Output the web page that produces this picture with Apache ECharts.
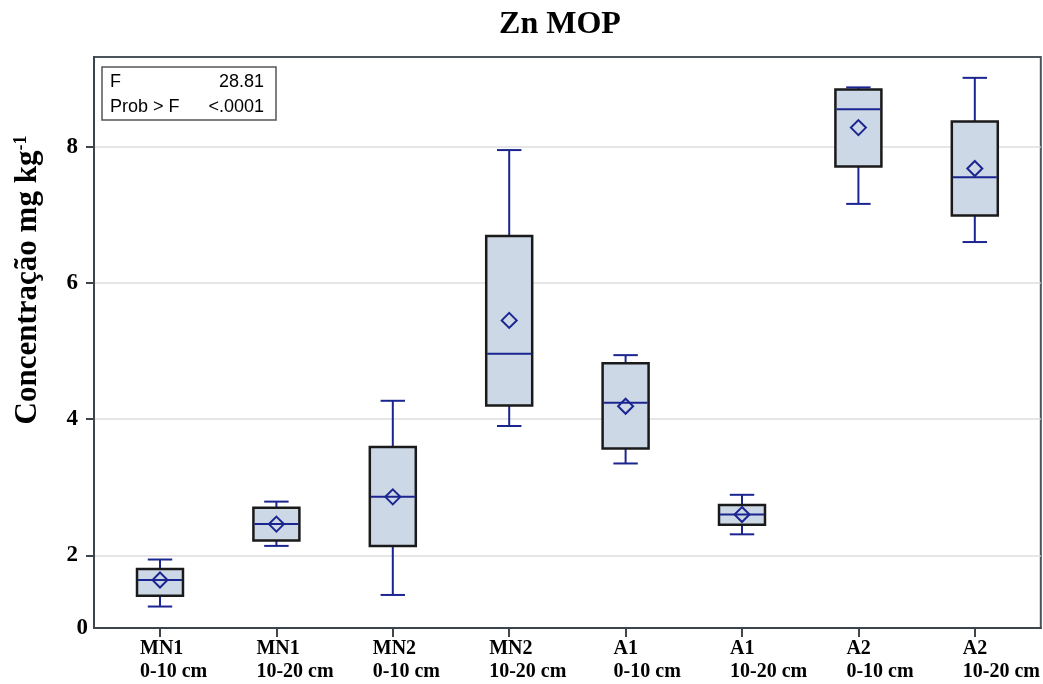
<!DOCTYPE html>
<html><head><meta charset="utf-8">
<script src="https://cdn.jsdelivr.net/npm/echarts@6/dist/echarts.min.js"></script>
<style>html,body{margin:0;padding:0;background:#fff}#c{width:1043px;height:684px}</style>
</head><body><div id="c"></div>
<script>
// ---- data ----
const categoryTop = ['MN1', 'MN1', 'MN2', 'MN2', 'A1', 'A1', 'A2', 'A2'];
const categoryDepth = ['0-10 cm', '10-20 cm', '0-10 cm', '10-20 cm', '0-10 cm', '10-20 cm', '0-10 cm', '10-20 cm'];
const whiskerLow  = [1.25, 2.14, 1.42, 3.90, 3.35, 2.31, 7.16, 6.60];
const q1          = [1.41, 2.22, 2.14, 4.20, 3.57, 2.45, 7.71, 6.99];
const median      = [1.64, 2.46, 2.86, 4.96, 4.24, 2.60, 8.55, 7.55];
const q3          = [1.80, 2.70, 3.59, 6.69, 4.82, 2.74, 8.84, 8.37];
const whiskerHigh = [1.94, 2.79, 4.27, 7.95, 4.94, 2.89, 8.87, 9.01];
const mean        = [1.64, 2.46, 2.86, 5.45, 4.19, 2.60, 8.28, 7.68];
const yTickValues = [2, 4, 6, 8];
const yBottomLabel = '0';
const Y_MIN = 0.935, Y_MAX = 9.316;
const X_MIN = -0.567, X_MAX = 7.567;
const titleText = 'Zn MOP';
const fLabel = 'F', fValue = '28.81';
const pLabel = 'Prob > F', pValue = '<.0001';

// ---- build ----
const idx = categoryTop.map((_, i) => i);
const boxData = idx.map(i => [i, whiskerLow[i], q1[i], median[i], q3[i], whiskerHigh[i], mean[i]]);

const NAVY = '#1b2590';
const SERIF = '"Liberation Serif", "Times New Roman", serif';
const SANS = '"Liberation Sans", Arial, sans-serif';

const chart = echarts.init(document.getElementById('c'), null, {renderer: 'canvas'});
chart.setOption({
  animation: false,
  backgroundColor: '#fff',
  title: {
    text: titleText, left: 555, top: 4, textAlign: 'center',
    textStyle: {fontFamily: SERIF, fontWeight: 'bold', fontSize: 32, color: '#000'}
  },
  grid: {left: 94, right: 2, top: 57, bottom: 56, show: true, borderColor: '#4b535b', borderWidth: 2, backgroundColor: 'transparent'},
  xAxis: {
    type: 'value', min: X_MIN, max: X_MAX,
    axisLine: {show: true, onZero: false, lineStyle: {color: '#3c444c', width: 2}},
    axisTick: {show: true, customValues: idx, length: 9, lineStyle: {color: '#3c444c', width: 2}},
    splitLine: {show: false},
    axisLabel: {
      customValues: idx, margin: 9,
      formatter: v => {
        const i = Math.round(v);
        const k = categoryTop[i].startsWith('MN') ? 'mn' : 'a';
        return '{' + k + '|' + categoryTop[i] + '}\n{' + k + '|' + categoryDepth[i] + '}';
      },
      rich: {
        mn: {width: 40, align: 'left', fontFamily: SERIF, fontWeight: 'bold', fontSize: 20, lineHeight: 23, color: '#000'},
        a: {width: 24, align: 'left', fontFamily: SERIF, fontWeight: 'bold', fontSize: 20, lineHeight: 23, color: '#000'}
      }
    }
  },
  yAxis: {
    type: 'value', min: Y_MIN, max: Y_MAX,
    axisLine: {show: true, onZero: false, lineStyle: {color: '#3c444c', width: 2}},
    axisTick: {show: true, customValues: yTickValues, length: 8, lineStyle: {color: '#3c444c', width: 2}},
    splitLine: {show: true, lineStyle: {color: '#dedede', width: 1.5}},
    axisLabel: {
      customValues: [Y_MIN].concat(yTickValues), margin: 6,
      formatter: v => (Math.abs(v - Y_MIN) < 1e-6 ? '{z|' + yBottomLabel + '}' : '{n|' + v + '}'),
      rich: {
        z: {fontFamily: SERIF, fontWeight: 'bold', fontSize: 23, color: '#000'},
        n: {fontFamily: SERIF, fontWeight: 'bold', fontSize: 23, color: '#000', padding: [0, 10, 0, 0]}
      }
    }
  },
  graphic: [
    {
      type: 'text', x: 28, y: 280, rotation: Math.PI / 2,
      style: {
        text: '{m|Concentração mg kg}{s|-1}',
        align: 'center', verticalAlign: 'middle',
        rich: {
          m: {fontFamily: SERIF, fontWeight: 'bold', fontSize: 31, color: '#000'},
          s: {fontFamily: SERIF, fontWeight: 'bold', fontSize: 18, color: '#000', verticalAlign: 'top', padding: [0, 0, 14, 0]}
        }
      }
    },
    {
      type: 'group', x: 102, y: 67,
      children: [
        {type: 'rect', shape: {x: 0, y: 0, width: 174, height: 53}, style: {fill: '#fff', stroke: '#555', lineWidth: 1.5}},
        {type: 'text', x: 8, y: 15, style: {text: fLabel, font: '18px ' + SANS, fill: '#000', verticalAlign: 'middle'}},
        {type: 'text', x: 162, y: 15, style: {text: fValue, font: '18px ' + SANS, fill: '#000', align: 'right', verticalAlign: 'middle'}},
        {type: 'text', x: 8, y: 40, style: {text: pLabel, font: '18px ' + SANS, fill: '#000', verticalAlign: 'middle'}},
        {type: 'text', x: 162, y: 40, style: {text: pValue, font: '18px ' + SANS, fill: '#000', align: 'right', verticalAlign: 'middle'}}
      ]
    }
  ],
  series: [{
    type: 'custom',
    data: boxData,
    encode: {x: 0, y: [1, 2, 3, 4, 5, 6]},
    renderItem: (params, api) => {
      const x = api.value(0);
      const pLo = api.coord([x, api.value(1)]);
      const pQ1 = api.coord([x, api.value(2)]);
      const pMed = api.coord([x, api.value(3)]);
      const pQ3 = api.coord([x, api.value(4)]);
      const pHi = api.coord([x, api.value(5)]);
      const pMean = api.coord([x, api.value(6)]);
      const bw = api.size([0.395, 0])[0];
      const cw = api.size([0.21, 0])[0];
      const cx = pMed[0];
      const d = 7.5;
      return {
        type: 'group',
        children: [
          {type: 'line', shape: {x1: cx, y1: pHi[1], x2: cx, y2: pLo[1]}, style: {stroke: NAVY, lineWidth: 2}},
          {type: 'rect', shape: {x: cx - bw / 2, y: pQ3[1], width: bw, height: pQ1[1] - pQ3[1]}, style: {fill: '#cdd8e7', stroke: '#1a1a1a', lineWidth: 2.5}},
          {type: 'line', shape: {x1: cx - bw / 2 + 1, y1: pMed[1], x2: cx + bw / 2 - 1, y2: pMed[1]}, style: {stroke: NAVY, lineWidth: 2}},
          {type: 'polygon', shape: {points: [[cx, pMean[1] - d], [cx + d, pMean[1]], [cx, pMean[1] + d], [cx - d, pMean[1]]]}, style: {fill: 'none', stroke: NAVY, lineWidth: 2}},
          {type: 'line', shape: {x1: cx - cw / 2, y1: pHi[1], x2: cx + cw / 2, y2: pHi[1]}, style: {stroke: NAVY, lineWidth: 2}},
          {type: 'line', shape: {x1: cx - cw / 2, y1: pLo[1], x2: cx + cw / 2, y2: pLo[1]}, style: {stroke: NAVY, lineWidth: 2}}
        ]
      };
    }
  }]
});
</script></body></html>
